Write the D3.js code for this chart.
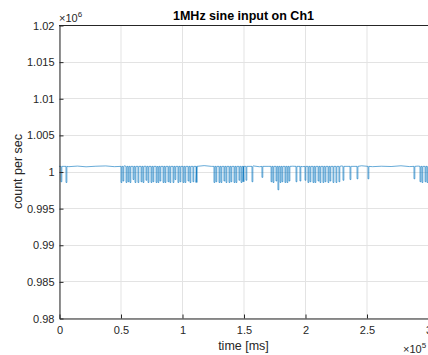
<!DOCTYPE html>
<html><head><meta charset="utf-8">
<script src="https://cdn.jsdelivr.net/npm/d3@7"></script>
<style>
html,body{margin:0;padding:0;background:#fff;}
svg text{font-family:"Liberation Sans",Arial,Helvetica,sans-serif;}
</style></head>
<body><svg id="c" width="428" height="355"></svg>
<script>
// x tick values (ms) and labels (x 10^5)
const xTicks = [0, 50000, 100000, 150000, 200000, 250000, 300000];
const xTickLabels = ["0", "0.5", "1", "1.5", "2", "2.5", "3"];
// y tick values (count/s) and labels (x 10^6)
const yTicks = [980000, 985000, 990000, 995000, 1000000, 1005000, 1010000, 1015000, 1020000];
const yTickLabels = ["0.98", "0.985", "0.99", "0.995", "1", "1.005", "1.01", "1.015", "1.02"];

// baseline samples (time ms, count/s)
const baseTimes = [0, 8000, 15000, 22000, 30000, 38000, 45000, 53000, 60000, 70000, 80000, 90000, 100000, 112000, 118000, 124000, 150000, 158000, 163000, 170000, 190000, 198000, 230000, 238000, 246000, 255000, 262000, 270000, 278000, 285000, 292000, 300000];
const baseValues = [1000700, 1000660, 1000740, 1000640, 1000720, 1000760, 1000660, 1000780, 1000700, 1000720, 1000680, 1000720, 1000700, 1000660, 1000800, 1000700, 1000680, 1000760, 1000650, 1000700, 1000720, 1000660, 1000760, 1000700, 1000780, 1000660, 1000720, 1000680, 1000780, 1000670, 1000740, 1000700];

// dropout events (time ms, minimum count/s)
const dipTimes = [1600, 5700, 50400, 52000, 54500, 56100, 57700, 60200, 61800, 64200, 66700, 68300, 70700, 72400, 74800, 76400, 78900, 80500, 82100, 84600, 86200, 88600, 90200, 92700, 94300, 96700, 98400, 100800, 102400, 104900, 106500, 108900, 111400, 126000, 127600, 130100, 131700, 134100, 135800, 138200, 139800, 142300, 143900, 146300, 148000, 149600, 152000, 156900, 165000, 172400, 174000, 176400, 178000, 179700, 181300, 183700, 185400, 187000, 192700, 195900, 200000, 202400, 204100, 206500, 208100, 210600, 212200, 214600, 216300, 218700, 220300, 222800, 225200, 227600, 230900, 236600, 242300, 251200, 288600, 293500, 295100, 297600, 299200];
const dipValues = [998600, 998500, 998500, 998700, 998500, 998600, 998500, 998900, 998500, 998500, 998600, 998500, 998800, 998500, 998500, 998600, 998500, 998500, 998700, 998500, 998500, 998600, 998500, 998500, 998900, 998500, 998600, 998500, 998500, 998700, 998500, 998600, 998500, 998500, 998600, 998500, 998500, 998700, 998500, 998500, 998600, 998500, 998500, 998800, 998500, 998600, 998800, 998600, 999200, 998600, 998500, 998700, 997500, 998500, 998600, 998500, 998500, 998700, 998600, 998700, 998800, 998500, 998600, 998500, 998500, 998700, 998500, 998500, 998600, 998500, 998700, 998500, 998500, 998600, 998800, 998900, 999000, 999000, 999000, 998600, 998500, 998600, 998500];

const m = {left: 59, top: 25, right: 428, bottom: 318};
const x = d3.scaleLinear().domain([0, 300000]).range([m.left, m.right]);
const y = d3.scaleLinear().domain([980000, 1020000]).range([m.bottom, m.top]);
const svg = d3.select("#c");
const axisCol = "#262626";

// grid
svg.append("g").selectAll("line").data(xTicks).join("line")
  .attr("x1", d => x(d) + 0.5).attr("x2", d => x(d) + 0.5)
  .attr("y1", m.top).attr("y2", m.bottom)
  .attr("stroke", "#e3e3e3").attr("stroke-width", 1);
svg.append("g").selectAll("line").data(yTicks).join("line")
  .attr("y1", d => Math.round(y(d)) + 0.5).attr("y2", d => Math.round(y(d)) + 0.5)
  .attr("x1", m.left).attr("x2", m.right)
  .attr("stroke", "#e3e3e3").attr("stroke-width", 1);

// series
const pts = [];
baseTimes.forEach((t, i) => pts.push({t: t, v: baseValues[i], k: 0}));
const baseLevel = 1000700;
dipTimes.forEach((t, i) => {
  pts.push({t: t, v: baseLevel, k: 1});
  pts.push({t: t + 1, v: dipValues[i], k: 2});
  pts.push({t: t + 700, v: dipValues[i], k: 3});
  pts.push({t: t + 701, v: baseLevel, k: 4});
});
pts.sort((a, b) => a.t - b.t || a.k - b.k);

svg.append("clipPath").attr("id", "clip").append("rect")
  .attr("x", m.left).attr("y", m.top).attr("width", m.right - m.left).attr("height", m.bottom - m.top);
svg.append("path").datum(pts)
  .attr("clip-path", "url(#clip)")
  .attr("fill", "none").attr("stroke", "#0072BD").attr("stroke-width", 0.6)
  .attr("d", d3.line().x(d => x(d.t)).y(d => y(d.v)));

// axes
const xAxis = d3.axisBottom(x).tickValues(xTicks).tickFormat((d, i) => xTickLabels[i]).tickSizeInner(-4).tickSizeOuter(0).tickPadding(8);
const gx = svg.append("g").attr("transform", `translate(0.5,${m.bottom + 0.5})`).call(xAxis);
const yAxis = d3.axisLeft(y).tickValues(yTicks).tickFormat((d, i) => yTickLabels[i]).tickSizeInner(-4).tickSizeOuter(0).tickPadding(5);
const gy = svg.append("g").attr("transform", `translate(${m.left + 0.5},0.5)`).call(yAxis);
[gx, gy].forEach(g => {
  g.select(".domain").attr("stroke", axisCol);
  g.selectAll(".tick line").attr("stroke", axisCol);
  g.selectAll("text").attr("fill", axisCol).style("font-size", "11px");
});
// box top
svg.append("line").attr("x1", m.left).attr("x2", m.right).attr("y1", m.top + 0.5).attr("y2", m.top + 0.5).attr("stroke", axisCol);

// title
svg.append("text").attr("x", (m.left + m.right) / 2).attr("y", 20).attr("text-anchor", "middle")
  .style("font-size", "12.5px").style("font-weight", "bold").attr("fill", "#000").text("1MHz sine input on Ch1");
// axis labels
svg.append("text").attr("x", (m.left + m.right) / 2).attr("y", 350).attr("text-anchor", "middle")
  .style("font-size", "12.5px").attr("fill", axisCol).text("time [ms]");
svg.append("text").attr("transform", `translate(22,${(m.top + m.bottom) / 2}) rotate(-90)`).attr("text-anchor", "middle")
  .style("font-size", "12.5px").attr("fill", axisCol).text("count per sec");
// exponents
const e6 = svg.append("text").attr("x", 59).attr("y", 22).style("font-size", "11px").attr("fill", axisCol);
e6.append("tspan").text("\u00d710");
e6.append("tspan").attr("dy", -5).style("font-size", "8px").text("6");
const e5 = svg.append("text").attr("x", 403).attr("y", 353).style("font-size", "11px").attr("fill", axisCol);
e5.append("tspan").text("\u00d710");
e5.append("tspan").attr("dy", -5).style("font-size", "8px").text("5");
</script></body></html>
